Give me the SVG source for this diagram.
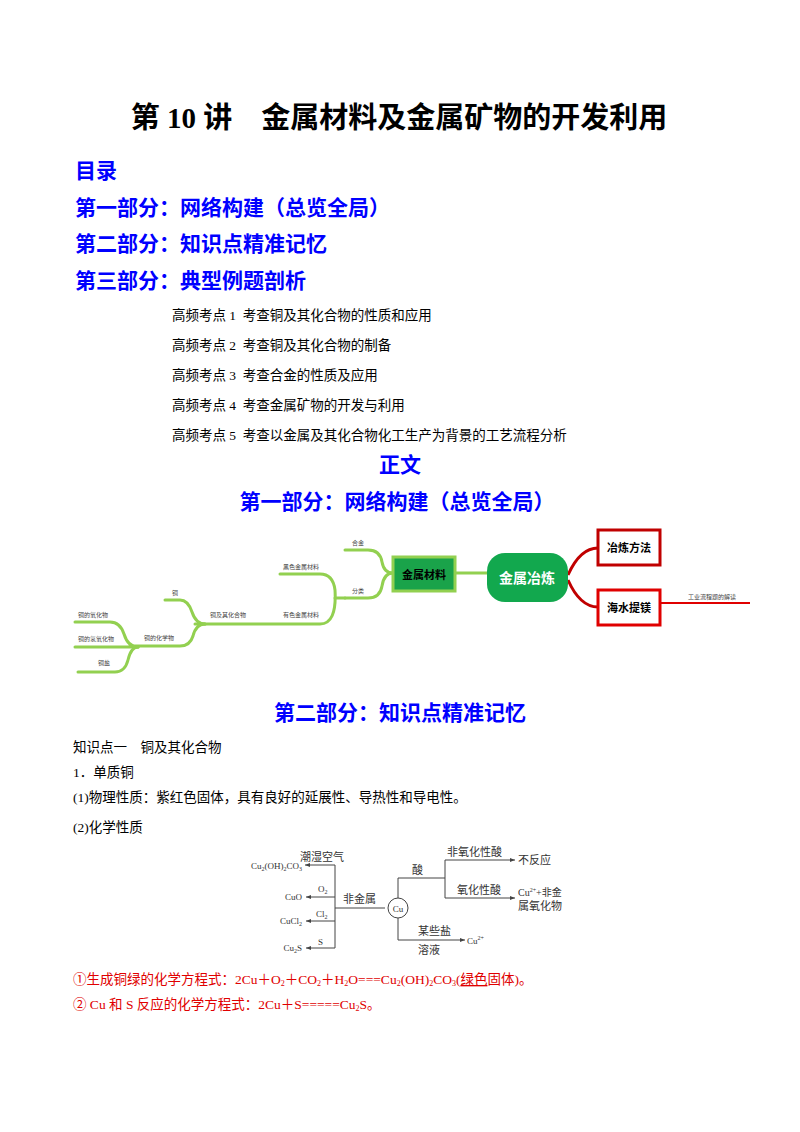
<svg xmlns="http://www.w3.org/2000/svg" width="800" height="1132" viewBox="0 0 800 1132">
<style>
text{font-family:"Liberation Serif","Noto Sans CJK SC",serif;fill:#000}
.h{font-weight:bold;fill:#0000ff;font-size:21px}
.s{font-size:13.5px}
.m{font-size:6px;fill:#444}
.g{fill:none;stroke:#92d050;stroke-width:3;stroke-linecap:round}
.r{fill:none;stroke:#c00000;stroke-width:3}
.d{font-size:11px;fill:#333}
.l{fill:none;stroke:#444;stroke-width:1}
.red{font-size:13.5px;fill:#e00000}
</style>
<defs><marker id="a" markerWidth="6" markerHeight="6" refX="5" refY="3" orient="auto"><path d="M0,1 L5,3 L0,5z" fill="#444"/></marker></defs>
<rect width="800" height="1132" fill="#fff"/>
<text x="399" y="128" text-anchor="middle" style="font-size:29px;font-weight:bold">第 10 讲　金属材料及金属矿物的开发利用</text>
<text class="h" x="75" y="178">目录</text>
<text class="h" x="75" y="215">第一部分：网络构建（总览全局）</text>
<text class="h" x="75" y="251">第二部分：知识点精准记忆</text>
<text class="h" x="75" y="288">第三部分：典型例题剖析</text>
<text class="s" x="172" y="320">高频考点 1&#160;&#160;考查铜及其化合物的性质和应用</text>
<text class="s" x="172" y="350">高频考点 2&#160;&#160;考查铜及其化合物的制备</text>
<text class="s" x="172" y="380">高频考点 3&#160;&#160;考查合金的性质及应用</text>
<text class="s" x="172" y="410">高频考点 4&#160;&#160;考查金属矿物的开发与利用</text>
<text class="s" x="172" y="440">高频考点 5&#160;&#160;考查以金属及其化合物化工生产为背景的工艺流程分析</text>
<text class="h" x="400" y="472" text-anchor="middle">正文</text>
<text class="h" x="397" y="509" text-anchor="middle">第一部分：网络构建（总览全局）</text>
<g id="connectors">
<path class="g" d="M345,550 H368 Q380,550 382,562 Q384,573 393,573"/>
<path class="g" d="M345,598 H368 Q380,598 382,586 Q384,573 393,573"/>
<path class="g" d="M455,573 H487"/>
<path class="g" d="M280,574 H320 Q333,574 335,590 Q337,624 320,624 H195"/>
<path class="g" d="M335,598 H345"/>
<path class="g" d="M165,600 H180 Q188,600 192,612 Q196,624 205,624"/>
<path class="g" d="M130,646 H180 Q190,646 193,636 Q196,624 205,624"/>
<path class="g" d="M75,622 H110 Q120,622 124,634 Q128,647 138,647"/>
<path class="g" d="M75,647 H138"/>
<path class="g" d="M78,672 H115 Q125,672 128,660 Q131,647 138,647"/>
<path class="r" d="M568,575 Q580,548 598,548"/>
<path class="r" d="M568,580 Q580,607 598,607"/>
<path class="r" d="M660,603 H750" style="stroke:#e00000;stroke-width:2"/>
<path class="l" d="M335,865 V948 M335,908 H385"/>
<path class="l" d="M335,865 H305" marker-end="url(#a)"/>
<path class="l" d="M335,897 H306" marker-end="url(#a)"/>
<path class="l" d="M335,921 H306" marker-end="url(#a)"/>
<path class="l" d="M335,948 H306" marker-end="url(#a)"/>
<path class="l" d="M398,898 V878 H445 M445,860 V898"/>
<path class="l" d="M445,860 H515" marker-end="url(#a)"/>
<path class="l" d="M445,898 H515" marker-end="url(#a)"/>
<path class="l" d="M398,918 V940 H465" marker-end="url(#a)"/>
</g>
<g id="n-hejin"><text class="m" x="352" y="545">合金</text></g>
<g id="n-heise"><text class="m" x="283" y="569">黑色金属材料</text></g>
<g id="n-fenlei"><text class="m" x="352" y="593">分类</text></g>
<g id="n-youse"><text class="m" x="283" y="617">有色金属材料</text></g>
<g id="n-tongji"><text class="m" x="210" y="617">铜及其化合物</text></g>
<g id="n-tong"><text class="m" x="172" y="595">铜</text></g>
<g id="n-tonghx"><text class="m" x="144" y="640">铜的化学物</text></g>
<g id="n-ox"><text class="m" x="78" y="617">铜的氧化物</text></g>
<g id="n-oh"><text class="m" x="78" y="641">铜的氢氧化物</text></g>
<g id="n-salt"><text class="m" x="98" y="665">铜盐</text></g>
<g id="n-jscl"><rect x="393" y="557" width="62" height="34" fill="#1aa34a" stroke="#92d050" stroke-width="3"/><text x="424" y="579" text-anchor="middle" style="font-size:11px;font-weight:bold;font-family:'Noto Sans CJK SC',sans-serif">金属材料</text></g>
<g id="n-jsyl"><rect x="487" y="553" width="81" height="49" rx="18" fill="#12a84e"/><text x="527" y="583" text-anchor="middle" style="font-size:14px;font-weight:bold;fill:#fff;font-family:'Noto Sans CJK SC',sans-serif">金属冶炼</text></g>
<g id="n-ylff"><rect x="598" y="530" width="62" height="35" fill="#fff" stroke="#c00000" stroke-width="3"/><text x="629" y="552" text-anchor="middle" style="font-size:11px;font-weight:bold;font-family:'Noto Sans CJK SC',sans-serif">冶炼方法</text></g>
<g id="n-hstm"><rect x="598" y="590" width="62" height="35" fill="#fff" stroke="#e00000" stroke-width="3"/><text x="629" y="612" text-anchor="middle" style="font-size:11px;font-weight:bold;font-family:'Noto Sans CJK SC',sans-serif">海水提镁</text></g>
<g id="n-gylc"><text class="m" x="688" y="599">工业流程题的解读</text></g>
<text class="h" x="400" y="720" text-anchor="middle">第二部分：知识点精准记忆</text>
<text class="s" x="73" y="752">知识点一　铜及其化合物</text>
<text class="s" x="73" y="777">1．单质铜</text>
<text class="s" x="73" y="802">(1)物理性质：紫红色固体，具有良好的延展性、导热性和导电性。</text>
<text class="s" x="73" y="832">(2)化学性质</text>
<g id="n-cu"><circle cx="398" cy="908" r="10" fill="#fff" stroke="#444"/><text class="d" x="398" y="912" text-anchor="middle" style="font-size:9px">Cu</text></g>
<g id="rx-labels">
<text class="d" x="300" y="861">潮湿空气</text>
<text class="d" x="302" y="869" text-anchor="end" style="font-size:9px">Cu<tspan font-size="6" dy="2">2</tspan><tspan dy="-2">(OH)</tspan><tspan font-size="6" dy="2">2</tspan><tspan dy="-2">CO</tspan><tspan font-size="6" dy="2">3</tspan></text>
<text class="d" x="318" y="892" style="font-size:9px">O<tspan font-size="6" dy="2">2</tspan></text>
<text class="d" x="302" y="900" text-anchor="end" style="font-size:9px">CuO</text>
<text class="d" x="343" y="903">非金属</text>
<text class="d" x="316" y="917" style="font-size:9px">Cl<tspan font-size="6" dy="2">2</tspan></text>
<text class="d" x="302" y="924" text-anchor="end" style="font-size:9px">CuCl<tspan font-size="6" dy="2">2</tspan></text>
<text class="d" x="318" y="945" style="font-size:9px">S</text>
<text class="d" x="302" y="951" text-anchor="end" style="font-size:9px">Cu<tspan font-size="6" dy="2">2</tspan><tspan dy="-2">S</tspan></text>
<text class="d" x="412" y="874">酸</text>
<text class="d" x="447" y="856">非氧化性酸</text>
<text class="d" x="518" y="864">不反应</text>
<text class="d" x="457" y="894">氧化性酸</text>
<text class="d" x="518" y="896" style="font-size:10px">Cu<tspan font-size="6" dy="-4">2+</tspan><tspan dy="4">+非金</tspan></text>
<text class="d" x="518" y="910">属氧化物</text>
<text class="d" x="418" y="935">某些盐</text>
<text class="d" x="418" y="954">溶液</text>
<text class="d" x="467" y="944" style="font-size:9px">Cu<tspan font-size="6" dy="-4">2+</tspan></text>
</g>
<text class="red" x="73" y="984">①生成铜绿的化学方程式：2Cu＋O<tspan font-size="8" dy="2">2</tspan><tspan dy="-2">＋CO</tspan><tspan font-size="8" dy="2">2</tspan><tspan dy="-2">＋H</tspan><tspan font-size="8" dy="2">2</tspan><tspan dy="-2">O===Cu</tspan><tspan font-size="8" dy="2">2</tspan><tspan dy="-2">(OH)</tspan><tspan font-size="8" dy="2">2</tspan><tspan dy="-2">CO</tspan><tspan font-size="8" dy="2">3</tspan><tspan dy="-2">(</tspan><tspan text-decoration="underline">绿色</tspan>固体)。</text>
<text class="red" x="73" y="1009">② Cu 和 S 反应的化学方程式：2Cu＋S=====Cu<tspan font-size="8" dy="2">2</tspan><tspan dy="-2">S。</tspan></text>
</svg>
